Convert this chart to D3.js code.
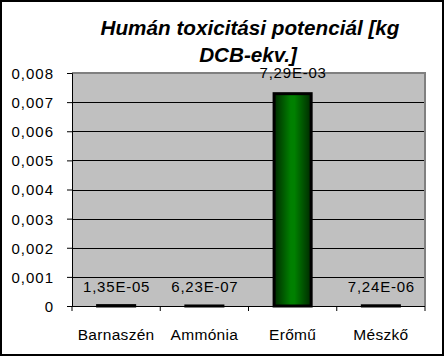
<!DOCTYPE html>
<html><head><meta charset="utf-8">
<script src="https://cdn.jsdelivr.net/npm/d3@7"></script>
<style>body{margin:0;background:#fff}svg{display:block}text{font-family:Arial,"Liberation Sans",sans-serif}</style>
</head><body>
<script>
const categories = ["Barnaszén", "Ammónia", "Erőmű", "Mészkő"];
const values = [1.35e-05, 6.23e-07, 7.29e-03, 7.24e-06];
const valueLabels = ["1,35E-05", "6,23E-07", "7,29E-03", "7,24E-06"];
const yTicks = [0, 0.001, 0.002, 0.003, 0.004, 0.005, 0.006, 0.007, 0.008];
const titleLines = ["Humán toxicitási potenciál [kg", "DCB-ekv.]"];

const W = 445, H = 356;
const svg = d3.select("body").append("svg").attr("width", W).attr("height", H);
svg.append("rect").attr("x",0).attr("y",0).attr("width",W).attr("height",H).attr("fill","#fff");

const L = 72, R = 425, T = 73, B = 306;
const x = d3.scaleBand().domain(categories).range([L, R]).paddingInner(0.58).paddingOuter(0.29);
const xb = d3.scaleBand().domain(categories).range([L, R]);
const y = d3.scaleLinear().domain([0, 0.008]).range([B, T]);

const defs = svg.append("defs");
const g = defs.append("linearGradient").attr("id","barg").attr("x1","0").attr("x2","1").attr("y1","0").attr("y2","0");
g.append("stop").attr("offset","0").attr("stop-color","#002a00");
g.append("stop").attr("offset","0.45").attr("stop-color","#008000");
g.append("stop").attr("offset","0.55").attr("stop-color","#008000");
g.append("stop").attr("offset","1").attr("stop-color","#002a00");

// plot area
svg.append("rect").attr("x",L).attr("y",T).attr("width",R-L).attr("height",B-T).attr("fill","#c0c0c0");
// gridlines
svg.append("g").selectAll("line").data(yTicks.filter(d=>d>0 && d<0.008)).join("line")
  .attr("x1",L).attr("x2",R).attr("y1",d=>Math.round(y(d))+0.5).attr("y2",d=>Math.round(y(d))+0.5)
  .attr("stroke","#000").attr("stroke-width",1);
// plot border top/right gray
svg.append("path").attr("d",`M${L},${T} H${R} V${B}`).attr("fill","none").attr("stroke","#808080").attr("stroke-width",2);

// bars
svg.append("g").selectAll("rect").data(categories).join("rect")
  .attr("x",d=>x(d)).attr("width",x.bandwidth())
  .attr("y",(d,i)=>y(values[i])).attr("height",(d,i)=>Math.max(0.01, B - y(values[i])))
  .attr("fill","url(#barg)").attr("stroke","#000").attr("stroke-width",3);

// axes
const yAxis = d3.axisLeft(y).tickValues(yTicks).tickSize(5).tickFormat(d=> d===0 ? "0" : d3.format(".3f")(d).replace(".", ","));
const ya = svg.append("g").attr("transform",`translate(${L},0)`).call(yAxis);
ya.select(".domain").attr("stroke","#000");
ya.selectAll(".tick line").attr("stroke","#000");
ya.selectAll("text").attr("font-size","15px").attr("fill","#000").attr("x",-18).attr("dy","0.36em")
  .attr("letter-spacing","1px")
  .style("font-family","Arial, 'Liberation Sans', sans-serif");

const xAxis = d3.axisBottom(xb).tickSize(0).tickPadding(20);
const xa = svg.append("g").attr("transform",`translate(0,${B})`).call(xAxis);
xa.select(".domain").attr("stroke","#000").attr("d",`M${L},0.5H${R}`);
xa.selectAll("text").attr("font-size","15.5px").attr("fill","#000").attr("y",34).attr("dy","0")
  .attr("letter-spacing","0.3px")
  .style("font-family","Arial, 'Liberation Sans', sans-serif");
// category boundary ticks
const bounds = categories.map(c=>xb(c)).concat([R]);
xa.append("g").selectAll("line").data(bounds).join("line")
  .attr("x1",d=>d).attr("x2",d=>d).attr("y1",0).attr("y2",5).attr("stroke","#000");

// value labels
svg.append("g").selectAll("text").data(categories).join("text")
  .attr("x",d=>x(d)+x.bandwidth()/2 + 0.5)
  .attr("y",(d,i)=> y(values[i]) - (values[i] > 0.001 ? 16 : 14))
  .attr("text-anchor","middle").attr("font-size","15px").attr("letter-spacing","0.8px").attr("fill","#000")
  .text((d,i)=>valueLabels[i]);

// title
svg.append("text").attr("x",250).attr("y",35).attr("text-anchor","middle")
  .attr("font-size","20.7px").attr("font-weight","bold").attr("font-style","italic")
  .selectAll("tspan").data(titleLines).join("tspan")
  .attr("x",d=>d===titleLines[0]?250:248).attr("dy",(d,i)=>i===0?0:27).text(d=>d);

// chart border
svg.append("rect").attr("x",1).attr("y",1).attr("width",442).attr("height",354)
  .attr("fill","none").attr("stroke","#000").attr("stroke-width",2);
</script>
</body></html>
